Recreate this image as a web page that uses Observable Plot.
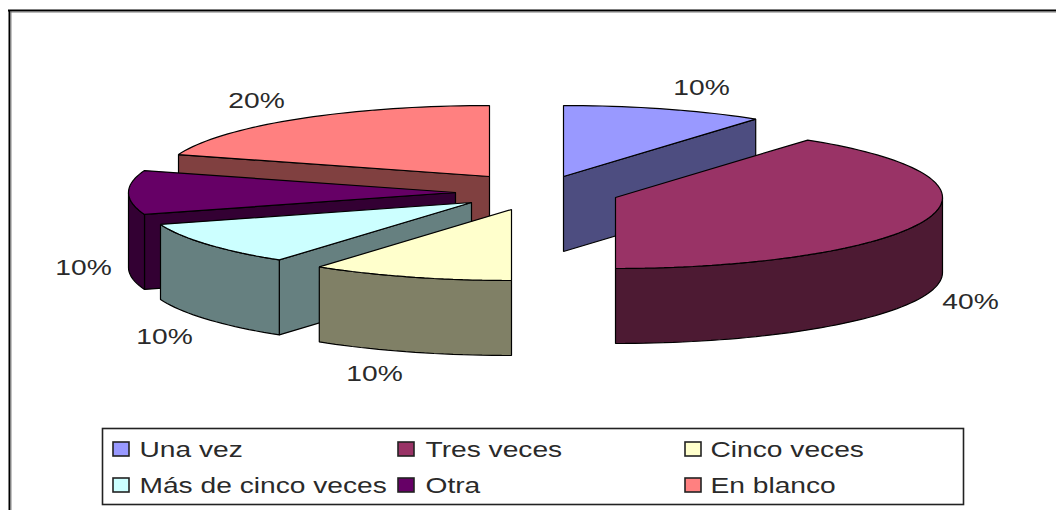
<!DOCTYPE html>
<html>
<head>
<meta charset="utf-8">
<script src="https://cdn.jsdelivr.net/npm/d3@7"></script>
<script src="https://cdn.jsdelivr.net/npm/@observablehq/plot@0.6"></script>
<style>
  html, body { margin: 0; padding: 0; background: #fff; }
  svg { display: block; }
</style>
</head>
<body>
<div id="chart"></div>
<script>
// --- data ---
const categories = ["Una vez", "Tres veces", "Cinco veces", "Más de cinco veces", "Otra", "En blanco"];
const values = [10, 40, 10, 10, 10, 20];
const topColors = ["#9999ff", "#993366", "#ffffcc", "#ccffff", "#660066", "#ff8080"];
const sideColors = ["#4d4d80", "#4d1a33", "#808066", "#668080", "#330033", "#804040"];

// --- layout ---
const W = 1056, H = 510;
const rx = 327, ry = 71, depth = 75;
const apexX = [563, 615, 511, 471, 455, 489];
const apexY = [176, 197, 209, 202, 192, 176];
const labelX = [701, 970, 374, 164, 83, 256];
const labelY = [87, 301, 373, 336, 267, 100];
const drawOrder = [5, 4, 3, 2, 0, 1];
const legendX = [113, 398, 685];
const legendTextX = [139, 425, 710];
const legendY = [449, 485];
const textStretch = 1.28;
const fontFamily = "Liberation Sans, Arial, sans-serif";

// --- slice geometry from the values ---
const total = d3.sum(values);
let running = 0;
const slices = values.map((v, i) => {
  const a0 = running / total * 2 * Math.PI;
  running += v;
  const a1 = running / total * 2 * Math.PI;
  return {i, a0, a1, ax: apexX[i], ay: apexY[i]};
});
const rim = (s, a, dz = 0) => ({x: s.ax + rx * Math.sin(a), y: s.ay - ry * Math.cos(a) + dz});
const arc = (s, a0, a1, dz = 0) => {
  const n = Math.max(2, Math.ceil((a1 - a0) / 0.03));
  return d3.range(n + 1).map(k => rim(s, a0 + (a1 - a0) * k / n, dz));
};
const apex = (s, dz = 0) => ({x: s.ax, y: s.ay + dz});
const cut = (s, a) => [apex(s), rim(s, a), rim(s, a, depth), apex(s, depth)];

const polys = [];
const eps = 1e-6;
for (const i of drawOrder) {
  const s = slices[i];
  if (Math.sin(s.a0) < -eps) polys.push({pts: cut(s, s.a0), fill: sideColors[i]});
  if (Math.sin(s.a1) > eps) polys.push({pts: cut(s, s.a1), fill: sideColors[i]});
  const w0 = Math.max(s.a0, Math.PI / 2), w1 = Math.min(s.a1, 3 * Math.PI / 2);
  if (w1 > w0) polys.push({pts: [...arc(s, w0, w1), ...arc(s, w0, w1, depth).reverse()], fill: sideColors[i]});
  polys.push({pts: [apex(s), ...arc(s, s.a0, s.a1)], fill: topColors[i]});
}

// --- legend rows ---
const legend = categories.map((name, i) => ({
  name, fill: topColors[i],
  x: legendX[i % 3], tx: legendTextX[i % 3], y: legendY[Math.floor(i / 3)]
}));
const pctLabels = values.map((v, i) => ({text: v + "%", x: labelX[i], y: labelY[i]}));

const chart = Plot.plot({
  width: W, height: H, margin: 0,
  style: {fontFamily, background: "#fff"},
  x: {domain: [0, W], range: [0, W], axis: null},
  y: {domain: [0, H], range: [0, H], axis: null},
  marks: [
    // frame (left and top only)
    Plot.ruleX([9], {y1: 10, y2: H, stroke: "#000", strokeWidth: 2}),
    Plot.ruleX([10.5], {y1: 11, y2: H, stroke: "#888", strokeWidth: 1}),
    Plot.ruleY([10], {x1: 8, x2: W, stroke: "#000", strokeWidth: 2}),
    Plot.ruleY([11.5], {x1: 10, x2: W, stroke: "#777", strokeWidth: 1}),
    // pie
    ...polys.map(p => Plot.line(p.pts, {
      x: "x", y: "y", fill: p.fill, stroke: "#000", strokeWidth: 1.2,
      curve: "linear-closed", strokeLinejoin: "miter"
    })),
    // percent labels
    Plot.text(pctLabels, {
      x: "x", y: "y", text: "text", fontSize: 22, fill: "#2a2a2a", textAnchor: "middle", fontFamily
    }),
    // legend
    Plot.rect([{}], {x1: () => 102.5, x2: () => 963.5, y1: () => 428.5, y2: () => 504.5, fill: "#fff", stroke: "#222", strokeWidth: 1.6}),
    Plot.rect(legend, {
      x1: d => d.x, x2: d => d.x + 16, y1: d => d.y - 7, y2: d => d.y + 7,
      fill: d => d.fill, stroke: "#222", strokeWidth: 1.6
    }),
    Plot.text(legend, {
      x: "tx", y: "y", text: "name", fontSize: 22, fill: "#2a2a2a", textAnchor: "start", fontFamily
    })
  ]
});
document.getElementById("chart").append(chart);
// the reference's text is stretched horizontally
chart.querySelectorAll("text").forEach(t => {
  const len = t.getComputedTextLength();
  t.setAttribute("textLength", (len * textStretch).toFixed(1));
  t.setAttribute("lengthAdjust", "spacingAndGlyphs");
});
</script>
</body>
</html>
